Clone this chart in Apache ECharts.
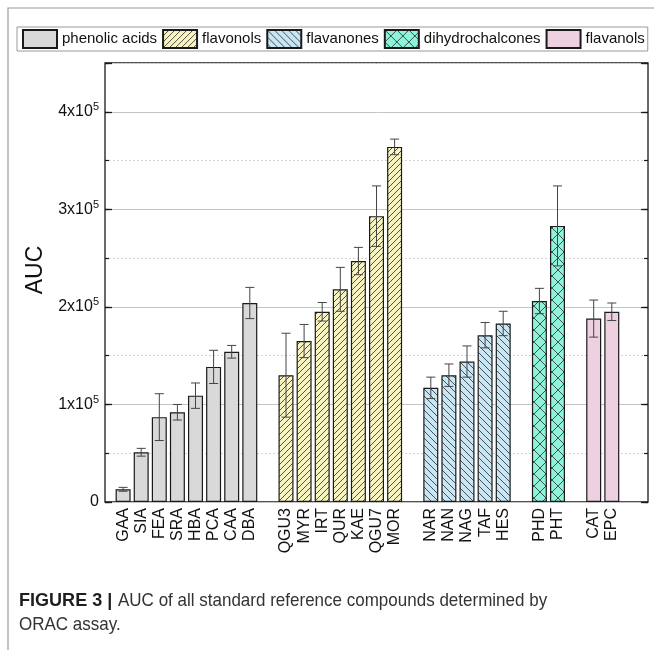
<!DOCTYPE html>
<html>
<head>
<meta charset="utf-8">
<title>AUC of standard reference compounds</title>
<script src="https://cdn.jsdelivr.net/npm/echarts@6.0.0/dist/echarts.min.js"></script>
<style>
  html, body { margin: 0; padding: 0; background: #fff; }
  #chart { width: 654px; height: 650px; }
</style>
</head>
<body>
<div id="chart"></div>
<script>
// ORAC assay: area under the curve (AUC) per standard compound, mean and SD
const phenolicNames = ['GAA', 'SIA', 'FEA', 'SRA', 'HBA', 'PCA', 'CAA', 'DBA'];
const phenolicAUC   = [13000, 51000, 87000, 92000, 109000, 138500, 154000, 204000];
const phenolicSD    = [2000, 4000, 24000, 8000, 13000, 17000, 6500, 16000];

const flavonolNames = ['QGU3', 'MYR', 'IRT', 'QUR', 'KAE', 'QGU7', 'MOR'];
const flavonolAUC   = [130000, 165000, 195000, 218000, 247000, 293000, 364000];
const flavonolSD    = [43000, 17000, 9500, 22500, 14000, 31000, 8000];

const flavanoneNames = ['NAR', 'NAN', 'NAG', 'TAF', 'HES'];
const flavanoneAUC   = [117000, 130000, 144000, 171000, 183000];
const flavanoneSD    = [11000, 11500, 16000, 13000, 12500];

const dihydroNames = ['PHD', 'PHT'];
const dihydroAUC   = [206000, 283000];
const dihydroSD    = [13000, 41000];

const flavanolNames = ['CAT', 'EPC'];
const flavanolAUC   = [188000, 195000];
const flavanolSD    = [19000, 9000];

const groupNames = ['phenolic acids', 'flavonols', 'flavanones', 'dihydrochalcones', 'flavanols'];
const yTickValues = [0, 100000, 200000, 300000, 400000];
const yTickLabels = ['0', '1x10', '2x10', '3x10', '4x10'];

const FONT = '"Liberation Sans", Arial, Helvetica, sans-serif';

// Fill patterns: solid tint plus hatch strokes
function hatch(bg, kind, size) {
  const c = document.createElement('canvas');
  c.width = c.height = size;
  const g = c.getContext('2d');
  g.fillStyle = bg;
  g.fillRect(0, 0, size, size);
  if (kind) {
    g.strokeStyle = '#2a2a2a';
    g.lineWidth = 0.8;
    g.beginPath();
    for (const o of [-size, 0, size]) {
      if (kind === 'fwd' || kind === 'cross') { g.moveTo(o, size); g.lineTo(o + size, 0); }
      if (kind === 'back' || kind === 'cross') { g.moveTo(o, 0); g.lineTo(o + size, size); }
    }
    g.stroke();
  }
  return { image: c, repeat: 'repeat' };
}

const groups = [
  { names: phenolicNames,  auc: phenolicAUC,  sd: phenolicSD,  fill: '#d9d9d9' },
  { names: flavonolNames,  auc: flavonolAUC,  sd: flavonolSD,  fill: hatch('#f8f4c2', 'fwd', 6) },
  { names: flavanoneNames, auc: flavanoneAUC, sd: flavanoneSD, fill: hatch('#c8e6f4', 'back', 7) },
  { names: dihydroNames,   auc: dihydroAUC,   sd: dihydroSD,   fill: hatch('#8ff2da', 'cross', 12) },
  { names: flavanolNames,  auc: flavanolAUC,  sd: flavanolSD,  fill: '#eed1e1' }
];

// Slot layout along x: groups side by side, one empty slot between groups
const labelAt = {};
const barSeries = [];
const errData = [];
let slot = 1;
groups.forEach((grp, gi) => {
  const pts = [];
  grp.names.forEach((nm, i) => {
    labelAt[slot] = nm;
    pts.push([slot, grp.auc[i]]);
    errData.push([slot, grp.auc[i] - grp.sd[i], grp.auc[i] + grp.sd[i]]);
    slot++;
  });
  slot++;
  barSeries.push({
    type: 'bar',
    name: groupNames[gi],
    data: pts,
    barWidth: 15,
    barGap: '-100%',
    xAxisIndex: 0,
    yAxisIndex: 0,
    itemStyle: { color: grp.fill, borderColor: '#1a1a1a', borderWidth: 1.2 },
    emphasis: { disabled: true },
    z: 3
  });
});
const xMax = slot - 1;

const errSeries = {
  type: 'custom',
  name: 'SD',
  xAxisIndex: 0,
  yAxisIndex: 0,
  data: errData,
  encode: { x: 0, y: [1, 2] },
  silent: true,
  z: 5,
  renderItem(params, api) {
    const x = api.value(0);
    const top = api.coord([x, api.value(2)]);
    const bot = api.coord([x, api.value(1)]);
    const hw = 4.5;
    const style = { stroke: '#444', lineWidth: 1 };
    return {
      type: 'group',
      children: [
        { type: 'line', shape: { x1: top[0], y1: top[1], x2: bot[0], y2: bot[1] }, style },
        { type: 'line', shape: { x1: top[0] - hw, y1: top[1], x2: top[0] + hw, y2: top[1] }, style },
        { type: 'line', shape: { x1: bot[0] - hw, y1: bot[1], x2: bot[0] + hw, y2: bot[1] }, style }
      ]
    };
  }
};

const Y_MAX = 450000;

function yLabel(v) {
  const k = yTickValues.indexOf(v);
  if (k < 0) return '';
  return k === 0 ? '{m|0}' : '{m|' + yTickLabels[k] + '}{s|5}';
}

const CAPTION_FONT = FONT;

const chart = echarts.init(document.getElementById('chart'), null, { renderer: 'canvas' });
chart.setOption({
  animation: false,
  backgroundColor: '#ffffff',
  textStyle: { fontFamily: FONT },
  legend: {
    data: groupNames,
    left: 17,
    top: 27,
    orient: 'horizontal',
    padding: [2, 3, 2, 5],
    itemGap: 5,
    itemWidth: 34,
    itemHeight: 18,
    borderColor: '#999',
    borderWidth: 1,
    selectedMode: false,
    icon: 'rect',
    textStyle: { fontFamily: FONT, fontSize: 15, color: '#111' }
  },
  grid: {
    left: 105, right: 6, top: 63, bottom: 148,
    show: true, borderColor: '#1a1a1a', borderWidth: 1.3, backgroundColor: 'transparent'
  },
  xAxis: [{
    type: 'value',
    min: 0, max: xMax + 1, interval: 1,
    axisLine: { show: false },
    axisTick: { show: false },
    splitLine: { show: false },
    axisLabel: {
      interval: 0, rotate: 90, margin: 6,
      fontFamily: FONT, fontSize: 16, color: '#111',
      showMinLabel: true, showMaxLabel: true,
      formatter: v => labelAt[v] || ''
    }
  }],
  yAxis: [
    {
      type: 'value', position: 'left', offset: 0,
      min: 0, max: Y_MAX, interval: 100000,
      axisLine: { show: false },
      axisTick: { show: true, inside: true, length: 7, lineStyle: { color: '#1a1a1a', width: 1.3 } },
      splitLine: { show: true, lineStyle: { color: '#c4c4c4', width: 1, type: 'solid' } },
      axisLabel: {
        margin: 6, color: '#111', fontFamily: FONT,
        formatter: yLabel,
        rich: {
          m: { fontSize: 16, fontFamily: FONT, color: '#111', lineHeight: 20 },
          s: { fontSize: 11, fontFamily: FONT, color: '#111', lineHeight: 11, verticalAlign: 'top' }
        }
      }
    },
    {
      type: 'value', position: 'left', offset: 0,
      min: 0, max: Y_MAX, interval: 50000,
      axisLine: { show: false },
      axisTick: { show: true, inside: true, length: 4, lineStyle: { color: '#1a1a1a', width: 1.2 } },
      splitLine: { show: true, lineStyle: { color: ['rgba(0,0,0,0)', '#d4d4d4'], width: 1, type: [2, 2] } },
      axisLabel: { show: false }
    },
    {
      type: 'value', position: 'right', offset: 0,
      min: 0, max: Y_MAX, interval: 100000,
      axisLine: { show: false },
      axisTick: { show: true, inside: true, length: 7, lineStyle: { color: '#1a1a1a', width: 1.3 } },
      splitLine: { show: false },
      axisLabel: { show: false }
    },
    {
      type: 'value', position: 'right', offset: 0,
      min: 0, max: Y_MAX, interval: 50000,
      axisLine: { show: false },
      axisTick: { show: true, inside: true, length: 4, lineStyle: { color: '#1a1a1a', width: 1.2 } },
      splitLine: { show: false },
      axisLabel: { show: false }
    }
  ],
  series: barSeries.concat([errSeries]),
  graphic: [
    {
      type: 'rect', z: -10, silent: true,
      shape: { x: 8, y: 8, width: 700, height: 700 },
      style: { fill: 'none', stroke: '#9a9a9a', lineWidth: 1.2 }
    },
    {
      type: 'text', silent: true,
      x: 36, y: 270, rotation: Math.PI / 2,
      style: {
        text: 'AUC', fontFamily: FONT, fontSize: 23, fill: '#111',
        align: 'center', verticalAlign: 'middle'
      }
    },
    // Figure caption, set in a condensed face
    {
      type: 'text', silent: true,
      x: 19, y: 601, scaleX: 0.95,
      style: {
        text: 'FIGURE 3 |', fontFamily: CAPTION_FONT, fontWeight: 'bold', fontSize: 19,
        fill: '#1e1e1e', verticalAlign: 'middle'
      }
    },
    {
      type: 'text', silent: true,
      x: 118, y: 601, scaleX: 0.895,
      style: {
        text: 'AUC of all standard reference compounds determined by', fontFamily: CAPTION_FONT,
        fontSize: 19, fill: '#333', verticalAlign: 'middle'
      }
    },
    {
      type: 'text', silent: true,
      x: 19, y: 625, scaleX: 0.895,
      style: {
        text: 'ORAC assay.', fontFamily: CAPTION_FONT,
        fontSize: 19, fill: '#333', verticalAlign: 'middle'
      }
    }
  ]
});
</script>
</body>
</html>
